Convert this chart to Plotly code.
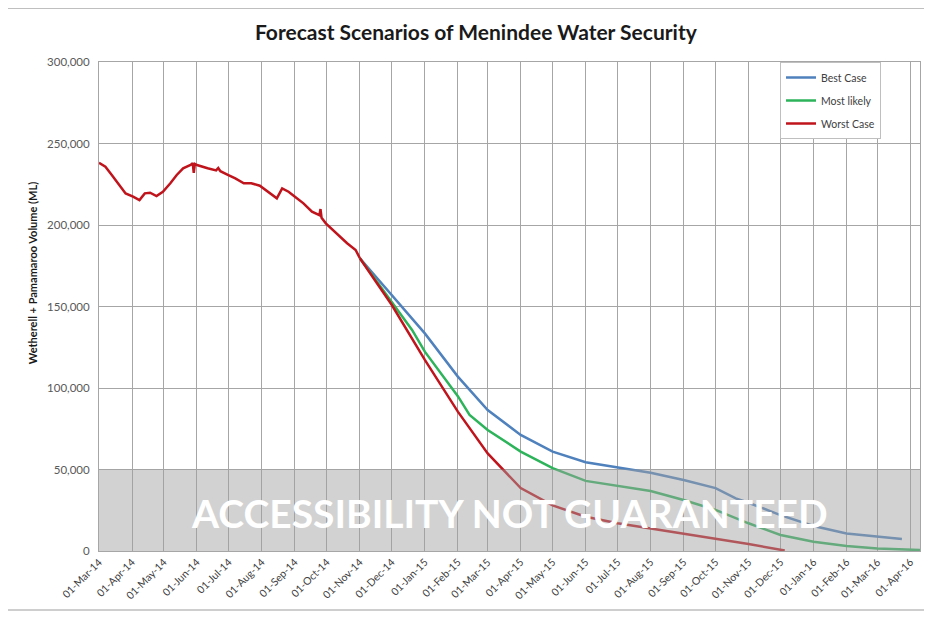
import plotly.graph_objects as go

# ---------------- data ----------------
hist_dates = ["2014-03-01", "2014-03-07", "2014-03-13", "2014-03-20", "2014-03-26",
              "2014-04-02", "2014-04-08", "2014-04-13", "2014-04-18", "2014-04-24",
              "2014-04-30", "2014-05-07", "2014-05-13", "2014-05-19", "2014-05-26",
              "2014-05-28", "2014-05-29", "2014-05-30", "2014-06-01", "2014-06-11",
              "2014-06-19", "2014-06-21", "2014-06-23", "2014-06-30", "2014-07-07",
              "2014-07-15", "2014-07-22", "2014-07-30", "2014-08-07", "2014-08-15",
              "2014-08-20", "2014-08-26", "2014-09-01", "2014-09-09", "2014-09-17",
              "2014-09-24", "2014-09-25", "2014-09-26", "2014-09-30", "2014-10-10",
              "2014-10-20", "2014-10-28", "2014-11-01"]
hist_vals = [238200, 235800, 230700, 224500, 219400,
             217400, 215300, 219400, 219800, 217800,
             220400, 225600, 230700, 234800, 236800,
             237900, 232000, 237500, 236800, 234800,
             233500, 235000, 233000, 230700, 228600,
             225600, 225600, 224100, 220400, 216400,
             222500, 220400, 217400, 213300, 208200,
             206000, 209800, 204500, 201000, 194900,
             188800, 184700, 179600]

best_dates = ["2014-11-01", "2014-12-01", "2015-01-01", "2015-02-01", "2015-03-01",
              "2015-04-01", "2015-05-01", "2015-06-01", "2015-07-01", "2015-08-01",
              "2015-09-01", "2015-10-01", "2015-10-20", "2015-11-01", "2015-12-01",
              "2016-01-01", "2016-02-01", "2016-03-01", "2016-03-24"]
best_vals = [179600, 157000, 133500, 107000, 86500,
             71200, 61000, 54500, 51500, 48000,
             43600, 38600, 32300, 29600, 22000,
             15300, 10800, 8800, 7400]

likely_dates = ["2014-11-01", "2014-12-01", "2014-12-20", "2015-01-01", "2015-01-24",
                "2015-02-01", "2015-02-12", "2015-03-01", "2015-04-01", "2015-05-01",
                "2015-06-01", "2015-07-01", "2015-08-01", "2015-09-01", "2015-10-01",
                "2015-11-01", "2015-12-01", "2016-01-01", "2016-02-01", "2016-03-01",
                "2016-04-10"]
likely_vals = [179600, 153000, 135600, 122300, 101800,
               95000, 83500, 74200, 61000, 50800,
               43000, 40000, 36800, 31300, 25200,
               17000, 9800, 5700, 3100, 1600,
               600]

worst_dates = ["2014-11-01", "2014-12-01", "2015-01-01", "2015-02-01", "2015-03-01",
               "2015-03-22", "2015-04-01", "2015-05-01", "2015-06-01", "2015-07-01",
               "2015-08-01", "2015-09-01", "2015-10-01", "2015-11-01", "2015-12-05"]
worst_vals = [179600, 150900, 117200, 85500, 59900,
              45600, 38600, 28000, 21000, 17000,
              13900, 10800, 7800, 4300, 300]

threshold = 50000
y_ticks = [0, 50000, 100000, 150000, 200000, 250000, 300000]

FONT = "Lato"
GRID = "#a6a6a6"

fig = go.Figure()

fig.add_trace(go.Scatter(x=best_dates, y=best_vals, mode="lines", name="Best Case",
                         legendgroup="a", line=dict(color="#4F81BD", width=2.5)))
fig.add_trace(go.Scatter(x=likely_dates, y=likely_vals, mode="lines", name="Most likely",
                         legendgroup="b", line=dict(color="#2DB35A", width=2.5)))
fig.add_trace(go.Scatter(x=worst_dates, y=worst_vals, mode="lines", name="Worst Case",
                         legendgroup="c", line=dict(color="#C0141C", width=2.5)))
fig.add_trace(go.Scatter(x=hist_dates, y=hist_vals, mode="lines", name="Historical",
                         showlegend=False, line=dict(color="#C0141C", width=2.5)))

# shaded "not guaranteed" band drawn over the lines (semi transparent)
fig.add_shape(type="rect", xref="paper", x0=0, x1=1, yref="y", y0=0, y1=threshold,
              fillcolor="rgba(160,160,160,0.48)", line=dict(width=0), layer="above")

fig.add_annotation(x=0.5, xref="paper", y=threshold * 0.47, yref="y",
                   text="ACCESSIBILITY NOT GUARANTEED", showarrow=False,
                   font=dict(family=FONT, size=39, color="white", weight="bold"))

# y-axis title as annotation (positioned like the reference)
fig.add_annotation(x=-0.0816, xref="paper", y=0.568, yref="paper",
                   text="Wetherell + Pamamaroo Volume (ML)", showarrow=False,
                   textangle=-90, xanchor="center", yanchor="middle",
                   font=dict(family=FONT, size=11, color="#1a1a1a", weight="bold"))

# outer chart border
fig.add_shape(type="rect", xref="paper", yref="paper",
              x0=-0.1145, x1=1.0073, y0=-0.1207, y1=1.110,
              line=dict(color="#bfbfbf", width=1.5), fillcolor="rgba(0,0,0,0)")

# the page body adds an 8px offset, so margins are shifted by 8px
fig.update_layout(
    width=932, height=617,
    margin=dict(l=91, r=20, t=54, b=74, autoexpand=False),
    paper_bgcolor="white", plot_bgcolor="white",
    font=dict(family=FONT, color="#404040"),
    title=dict(text="Forecast Scenarios of Menindee Water Security",
               x=0.502, xanchor="center", y=0.9595, yanchor="middle",
               font=dict(family=FONT, size=21, color="#1a1a1a", weight="bold")),
    showlegend=True,
    legend=dict(x=0.8295, y=1, xanchor="left", yanchor="top",
                bgcolor="white", bordercolor="#bfbfbf", borderwidth=1,
                font=dict(family=FONT, size=10.5, color="#404040"),
                tracegroupgap=4, itemwidth=30, entrywidth=118, entrywidthmode="pixels"),
    hovermode=False,
)

fig.update_xaxes(
    type="date", range=["2014-03-01", "2016-04-10"], automargin=False,
    tick0="2014-03-01", dtick="M1", tickformat="%d-%b-%y", tickangle=-45,
    showgrid=True, gridcolor=GRID, gridwidth=1,
    showline=True, linecolor=GRID, linewidth=1, mirror=True,
    ticks="", tickfont=dict(family=FONT, size=10.5, color="#404040"),
)
fig.update_yaxes(
    range=[0, 300000], tickvals=y_ticks, tickformat=",", automargin=False,
    showgrid=True, gridcolor=GRID, gridwidth=1,
    showline=True, linecolor=GRID, linewidth=1, mirror=True,
    zeroline=False, ticks="outside", ticklen=6, tickcolor="rgba(0,0,0,0)",
    tickfont=dict(family=FONT, size=11.5, color="#595959"),
)

fig.write_html("out.html")
